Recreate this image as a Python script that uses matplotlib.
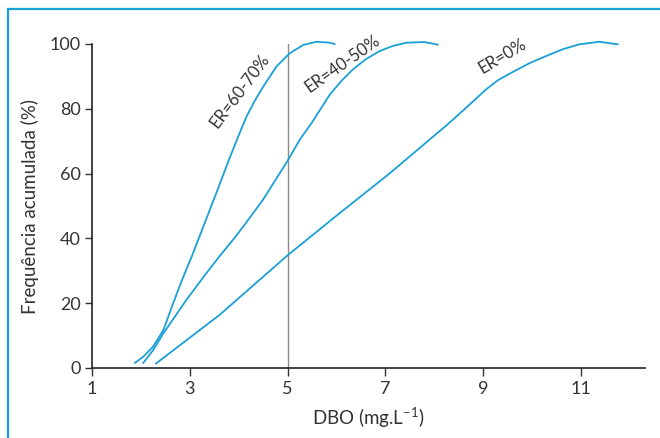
import numpy as np
import matplotlib.pyplot as plt
from matplotlib.lines import Line2D

# DBO (mg/L) vs cumulative frequency (%)
er6070_x = [1.88, 2.05, 2.25, 2.46, 2.66, 2.85, 3.04, 3.17, 3.35, 3.53, 3.82, 4.00, 4.16, 4.33, 4.50, 4.77, 5.04, 5.32, 5.59, 5.86, 5.96]
er6070_y = [1.6, 3.5, 6.6, 11.7, 20.0, 27.5, 34.4, 39.5, 46.5, 53.5, 65.0, 71.8, 77.6, 82.5, 86.8, 93.0, 97.1, 99.7, 100.7, 100.4, 100.0]

er4050_x = [2.05, 2.25, 2.46, 2.93, 3.30, 3.61, 3.96, 4.16, 4.50, 5.01, 5.25, 5.50, 5.86, 6.10, 6.34, 6.60, 6.88, 7.15, 7.43, 7.80, 8.07]
er4050_y = [1.6, 5.5, 10.7, 21.0, 28.5, 34.5, 41.0, 45.0, 52.0, 64.2, 70.5, 75.8, 84.3, 88.6, 92.2, 95.3, 97.8, 99.4, 100.4, 100.6, 99.8]

er0_x = [2.31, 3.61, 5.01, 6.00, 7.09, 8.25, 8.65, 9.06, 9.30, 9.61, 9.95, 10.29, 10.63, 10.97, 11.38, 11.75]
er0_y = [1.4, 16.4, 34.9, 47.0, 60.1, 74.9, 80.3, 86.0, 88.8, 91.4, 94.1, 96.3, 98.4, 99.9, 100.7, 99.9]

labels = ["ER=60-70%", "ER=40-50%", "ER=0%"]
label_pos = [(4.02, 85.5, 53), (6.12, 93.8, 35), (9.4, 96.2, 31)]

xticks = [1, 3, 5, 7, 9, 11]
yticks = [0, 20, 40, 60, 80, 100]

blue = "#1aa0d6"
txt = "#333333"

plt.rcParams['font.family'] = ['Lato', 'DejaVu Sans']

fig = plt.figure(figsize=(6.6, 4.38), dpi=100)
ax = fig.add_axes([92 / 660, 1 - 368 / 438, (645 - 92) / 660, (368 - 44) / 438])

for xs, ys in [(er6070_x, er6070_y), (er4050_x, er4050_y), (er0_x, er0_y)]:
    ax.plot(xs, ys, color=blue, lw=1.3, clip_on=False, solid_joinstyle="round")

ax.plot([5, 5], [0, 100], color="#8c8c8c", lw=1.0, zorder=1)

for lab, (lx, ly, rot) in zip(labels, label_pos):
    ax.text(lx, ly, lab, rotation=rot, ha="center", va="center",
            fontsize=12, color=txt, rotation_mode="anchor")

ax.set_xlim(1, 12.31)
ax.set_ylim(0, 100)
ax.set_xticks(xticks)
ax.set_yticks(yticks)
ax.tick_params(axis="both", labelsize=13, colors=txt, length=6, width=1.0, pad=3)
ax.tick_params(axis="y", length=5)
for s in ["top", "right"]:
    ax.spines[s].set_visible(False)
for s in ["left", "bottom"]:
    ax.spines[s].set_color("#222222")
    ax.spines[s].set_linewidth(1.2)

ax.set_xlabel(r"DBO (mg.L$^{\mathregular{-1}}$)", fontsize=13.5, color=txt, labelpad=6)
ax.set_ylabel("Frequência acumulada (%)", fontsize=13.5, color=txt, labelpad=8)

# blue frame on left and top of the figure
fig.add_artist(Line2D([8 / 660, 8 / 660], [0, 1 - 9 / 438], color=blue, lw=1.6, transform=fig.transFigure))
fig.add_artist(Line2D([8 / 660, 1], [1 - 9 / 438, 1 - 9 / 438], color=blue, lw=1.6, transform=fig.transFigure))

fig.savefig("out.png", dpi=100)
